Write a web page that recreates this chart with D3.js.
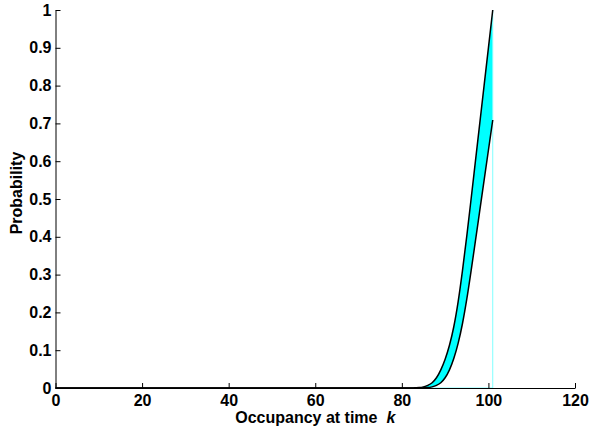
<!DOCTYPE html>
<html>
<head>
<meta charset="utf-8">
<script src="https://cdn.jsdelivr.net/npm/d3@7"></script>
<style>
  body { margin: 0; background: #fff; }
  text { font-family: "Liberation Sans", Arial, sans-serif; font-weight: bold; }
</style>
</head>
<body>
<svg id="chart" width="589" height="434"></svg>
<script>
// occupancy values k and the two probability curves
var kValues = [0, 82, 83, 84, 85, 86, 87, 88, 89, 90, 91, 92, 93, 94, 95, 96, 97, 98, 99, 100, 101];
var upper   = [0, 0, 0.0005, 0.001, 0.003, 0.007, 0.014, 0.027, 0.048, 0.076, 0.113, 0.162, 0.228, 0.31, 0.402, 0.50, 0.60, 0.70, 0.80, 0.90, 1.0];
var lower   = [0, 0, 0, 0, 0.0005, 0.001, 0.003, 0.007, 0.014, 0.027, 0.048, 0.078, 0.118, 0.17, 0.235, 0.31, 0.389, 0.469, 0.549, 0.629, 0.709];
var xTicks = [0, 20, 40, 60, 80, 100, 120];
var yTicks = [0, 0.1, 0.2, 0.3, 0.4, 0.5, 0.6, 0.7, 0.8, 0.9, 1];
var kMax = 101;

var svg = d3.select("#chart"),
    margin = {left: 55.5, right: 14, top: 10, bottom: 46},
    width = +svg.attr("width"),
    height = +svg.attr("height");

var x = d3.scaleLinear().domain([0, 120]).range([margin.left, width - margin.right]);
var y = d3.scaleLinear().domain([0, 1]).range([height - margin.bottom, margin.top]);

var pts = kValues.map(function(k, i){ return {k: k, up: upper[i], lo: lower[i]}; });

// cyan band between curves
var area = d3.area()
    .x(function(d){ return x(d.k); })
    .y0(function(d){ return y(d.lo); })
    .y1(function(d){ return y(d.up); })
    .curve(d3.curveMonotoneX);

svg.append("path")
    .datum(pts.slice(1))
    .attr("d", area)
    .attr("fill", "#00ffff");

// thin cyan edge at the end of the range
svg.append("path")
    .attr("d", d3.line()([[x(83), y(0)], [x(kMax), y(0)], [x(kMax), y(1)]]))
    .attr("fill", "none")
    .attr("stroke", "#7fffff")
    .attr("stroke-width", 1);

var lineUp = d3.line().x(function(d){ return x(d.k); }).y(function(d){ return y(d.up); }).curve(d3.curveMonotoneX);
var lineLo = d3.line().x(function(d){ return x(d.k); }).y(function(d){ return y(d.lo); }).curve(d3.curveMonotoneX);

svg.append("path").datum(pts).attr("d", lineUp)
    .attr("fill", "none").attr("stroke", "#000").attr("stroke-width", 1.5);
svg.append("path").datum(pts).attr("d", lineLo)
    .attr("fill", "none").attr("stroke", "#000").attr("stroke-width", 1.5);

// axes, ticks pointing inward
var xAxis = svg.append("g")
    .attr("transform", "translate(0," + y(0) + ")")
    .call(d3.axisBottom(x).tickValues(xTicks).tickSize(-5).tickSizeOuter(0).tickPadding(7));
var yAxis = svg.append("g")
    .attr("transform", "translate(" + x(0) + ",0)")
    .call(d3.axisLeft(y).tickValues(yTicks).tickSize(-5).tickSizeOuter(0).tickPadding(4)
      .tickFormat(function(d){ return d3.format("")(+d.toFixed(1)); }));

[xAxis, yAxis].forEach(function(a){
  a.select(".domain").attr("stroke", "#000").attr("stroke-width", 1);
  a.selectAll(".tick line").attr("stroke", "#000");
  a.selectAll("text").attr("fill", "#000").style("font-size", "16px").style("font-weight", "bold");
});

svg.append("text")
    .attr("x", (x(0) + x(120)) / 2)
    .attr("y", 423)
    .attr("text-anchor", "middle")
    .style("font-size", "16px")
    .html('Occupancy at time &#160;<tspan font-style="italic">k</tspan>');

svg.append("text")
    .attr("transform", "translate(22,193) rotate(-90)")
    .attr("text-anchor", "middle")
    .style("font-size", "16px")
    .text("Probability");
</script>
</body>
</html>
